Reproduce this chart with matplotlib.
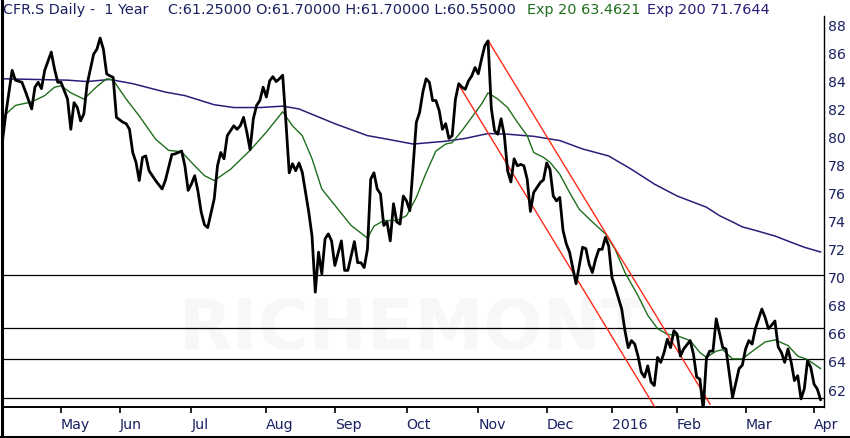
import numpy as np
import pandas as pd
import matplotlib
matplotlib.use("Agg")
import matplotlib.pyplot as plt
from matplotlib.lines import Line2D

# SIX trading calendar for the year shown (Apr 2015 - Apr 2016)
holidays = ["2015-05-01", "2015-05-14", "2015-05-25", "2015-12-24", "2015-12-25",
            "2015-12-31", "2016-01-01", "2016-03-25", "2016-03-28"]
days = pd.bdate_range("2015-04-07", "2016-04-05", freq="C", holidays=holidays)

# daily close (trading-day index, price)
close_day = [0, 1, 3, 4, 6, 7, 9, 10, 11, 12, 13, 15, 16, 17, 18, 20, 21, 22, 23, 24,
             25, 26, 28, 29, 30, 31, 32, 33, 34, 35, 37, 38, 39, 40, 41, 42, 43, 44, 45, 46,
             47, 49, 50, 52, 53, 55, 56, 57, 58, 59, 60, 61, 62, 63, 65, 66, 67, 68, 69, 71,
             72, 73, 74, 75, 76, 77, 78, 79, 80, 81, 82, 83, 84, 85, 86, 87, 88, 89, 90, 91,
             92, 93, 94, 95, 96, 97, 98, 99, 100, 101, 102, 104, 105, 106, 108, 109, 110, 111, 112, 113,
             114, 115, 116, 117, 118, 119, 120, 121, 122, 123, 124, 125, 126, 127, 128, 129, 130, 131, 132, 133,
             134, 135, 136, 137, 138, 139, 140, 141, 142, 143, 144, 145, 146, 147, 148, 149, 150, 151, 152, 153,
             154, 155, 156, 157, 158, 159, 160, 161, 162, 163, 165, 166, 167, 168, 169, 170, 171, 172, 173, 174,
             176, 177, 178, 179, 180, 181, 182, 183, 184, 185, 186, 187, 188, 190, 191, 192, 193, 194, 195, 196,
             197, 198, 199, 200, 201, 202, 203, 204, 205, 206, 207, 208, 209, 211, 212, 213, 214, 215, 216, 217,
             218, 219, 221, 222, 224, 226, 227, 228, 229, 230, 231, 233, 234, 235, 236, 237, 238, 239, 240, 241,
             242, 243, 244, 245, 246, 247, 248, 249, 250, 251]
close = [79.6, 81.5, 84.7, 84.0, 83.85, 83.25, 81.95, 83.5, 83.85, 83.4, 84.7, 86.0, 84.8, 83.85, 83.85, 82.65, 80.5, 82.4, 82.05, 81.1,
         81.6, 83.7, 85.85, 86.2, 87.0, 86.2, 84.45, 84.3, 84.2, 81.35, 81.0, 80.9, 80.5, 78.85, 78.15, 76.85, 78.5, 78.6, 77.55, 77.2,
         76.85, 76.25, 76.85, 78.7, 78.75, 78.95, 77.9, 76.15, 76.6, 77.2, 76.1, 74.6, 73.7, 73.5, 75.55, 77.9, 78.85, 78.4, 80.05, 80.75,
         80.5, 80.75, 81.35, 80.3, 79.05, 81.25, 82.2, 82.55, 83.5, 82.8, 83.95, 84.25, 83.9, 84.1, 84.35, 81.0, 77.4, 78.05, 77.55, 78.1,
         77.45, 76.0, 74.6, 72.9, 68.9, 71.75, 70.2, 72.7, 73.05, 72.55, 70.8, 72.55, 70.45, 70.45, 72.5, 71.0, 71.0, 70.65, 71.95, 76.95,
         77.4, 76.25, 75.9, 73.65, 73.9, 72.55, 75.2, 73.9, 73.75, 75.75, 75.4, 74.7, 77.9, 81.0, 81.7, 83.15, 84.1, 83.85, 82.55, 82.55,
         81.85, 80.5, 80.9, 79.85, 80.05, 82.65, 83.75, 83.5, 83.35, 83.95, 84.3, 84.9, 84.45, 85.5, 86.45, 86.8, 82.0, 80.4, 80.15, 81.25,
         80.05, 77.55, 76.75, 78.4, 77.9, 78.0, 77.9, 76.95, 74.65, 76.0, 76.7, 76.9, 78.1, 77.65, 75.75, 75.4, 75.65, 73.3, 72.35, 71.75,
         69.5, 70.8, 72.1, 72.0, 70.9, 70.3, 71.25, 71.95, 71.95, 72.8, 72.2, 69.95, 69.25, 67.7, 66.15, 64.95, 65.45, 65.2, 64.35, 63.2,
         62.85, 63.65, 62.5, 62.25, 64.25, 63.9, 64.6, 65.55, 64.95, 66.15, 65.9, 64.35, 64.85, 65.45, 64.5, 62.85, 62.7, 60.55, 64.2, 64.7,
         64.7, 67.0, 64.95, 64.85, 61.4, 63.45, 63.7, 64.85, 65.45, 65.2, 66.3, 67.7, 67.1, 66.3, 66.55, 66.85, 65.0, 64.6, 63.9, 64.85,
         63.9, 62.6, 62.95, 61.3, 62.0, 64.0, 63.55, 62.35, 62.0, 61.25]

# exponential moving averages as drawn on the chart
ema20_day = [0, 4, 9, 13, 16, 18, 21, 25, 29, 32, 34, 38, 42, 47, 51, 55, 59, 62, 65, 70,
             76, 81, 86, 89, 92, 95, 98, 103, 107, 112, 114, 117, 121, 124, 127, 130, 133, 136, 138, 141,
             144, 147, 149, 152, 155, 158, 161, 163, 166, 168, 171, 174, 177, 181, 185, 188, 191, 195, 198, 201,
             204, 207, 211, 214, 216, 219, 221, 224, 227, 231, 234, 237, 241, 244, 247, 251]
ema20 = [81.35, 82.2, 82.45, 82.9, 83.5, 83.6, 83.1, 82.65, 83.55, 84.1, 84.0, 82.65, 81.45, 79.8, 79.0, 78.9, 77.9, 77.2, 76.85, 77.65,
         79.0, 80.3, 81.75, 80.75, 80.05, 78.4, 76.25, 74.8, 73.65, 72.75, 73.6, 74.0, 74.0, 74.35, 75.65, 77.4, 78.95, 79.45, 79.55, 80.4,
         81.35, 82.3, 83.1, 82.65, 82.05, 81.0, 80.05, 78.85, 78.5, 78.15, 77.3, 76.0, 74.8, 73.9, 73.05, 71.95, 70.3, 68.65, 67.25, 66.3,
         65.9, 65.8, 65.45, 64.6, 64.25, 64.7, 64.8, 64.15, 64.15, 64.85, 65.35, 65.5, 65.1, 64.35, 64.1, 63.46]

ema200_day = [0, 10, 20, 26, 33, 40, 50, 56, 65, 71, 79, 86, 91, 102, 112, 118, 126, 136, 142, 149,
              155, 163, 171, 178, 186, 193, 200, 207, 216, 220, 224, 227, 231, 237, 242, 246, 251]
ema200 = [84.1, 84.05, 84.0, 83.9, 84.05, 83.75, 83.15, 82.9, 82.25, 82.05, 82.05, 82.15, 81.95, 80.9, 80.05, 79.8, 79.45, 79.65, 79.85, 80.2,
          80.15, 80.0, 79.7, 79.1, 78.6, 77.65, 76.6, 75.75, 74.95, 74.35, 73.9, 73.55, 73.3, 72.9, 72.45, 72.1, 71.76]

# drawn support lines and the falling channel
support_levels = [70.1, 66.37, 64.12, 61.34]
channel_upper_day = [149.1, 217.1]
channel_upper = [86.8, 60.93]
channel_lower_day = [140.2, 200.2]
channel_lower = [83.6, 60.7]

navy = "#1a2160"
green = "#1e6e1e"
purple = "#2c1c78"

fig = plt.figure(figsize=(8.5, 4.39), dpi=100)
ax = fig.add_axes([3 / 850, 1 - 408 / 439, 821 / 850, 391 / 439])

# faint watermark
ax.text(0.5, 0.2, "RICHEMONT", transform=ax.transAxes, ha="center", va="center",
        fontsize=50, fontweight="bold", color="#f7f7f7", zorder=0)

for lvl in support_levels:
    ax.axhline(lvl, color="black", lw=0.9, zorder=1)

ax.plot(ema200_day, ema200, color=purple, lw=1.1, zorder=2, solid_joinstyle="round")
ax.plot(ema20_day, ema20, color=green, lw=1.0, zorder=2, solid_joinstyle="round")
ax.plot(channel_upper_day, channel_upper, color="#ff2a1a", lw=1.0, zorder=3)
ax.plot(channel_lower_day, channel_lower, color="#ff2a1a", lw=1.0, zorder=3)
ax.plot(close_day, close, color="black", lw=2.0, zorder=4, solid_joinstyle="round")

ax.set_xlim(0.2, 252.06)
ax.set_ylim(60.72, 88.57)

# month ticks on the first trading day of each month
tick_idx = [i for i in range(1, len(days)) if days[i].month != days[i - 1].month]
tick_lbl = [str(days[i].year) if days[i].month == 1 else days[i].strftime("%b") for i in tick_idx]
ax.set_xticks(tick_idx)
ax.set_xticklabels(tick_lbl, ha="left")
ax.tick_params(axis="x", direction="out", length=4.5, width=1.2, color="black",
               pad=3, labelsize=10.2, labelcolor=navy)

ax.yaxis.tick_right()
ax.set_yticks(range(62, 89, 2))
ax.tick_params(axis="y", length=0, pad=2.9, labelsize=10.2, labelcolor=navy)

ax.spines["left"].set_visible(False)
ax.spines["top"].set_visible(False)
ax.spines["right"].set_linewidth(1.0)
ax.spines["bottom"].set_linewidth(1.4)

# outer frame (left and bottom)
fig.add_artist(Line2D([1.5 / 850, 1.5 / 850], [0, 1], transform=fig.transFigure, color="black", lw=2.2))
fig.add_artist(Line2D([0, 1], [1.5 / 439, 1.5 / 439], transform=fig.transFigure, color="black", lw=2.2))

# header line
ty = 1 - 10 / 439
fig.text(3 / 850, ty, "CFR.S Daily -  1 Year", color=navy, fontsize=10.4, va="center")
fig.text(168 / 850, ty, "C:61.25000 O:61.70000 H:61.70000 L:60.55000", color=navy, fontsize=10.4, va="center")
fig.text(527 / 850, ty, "Exp 20 63.4621", color=green, fontsize=10.4, va="center")
fig.text(647 / 850, ty, "Exp 200 71.7644", color=purple, fontsize=10.4, va="center")

fig.savefig("out.png", dpi=100)
